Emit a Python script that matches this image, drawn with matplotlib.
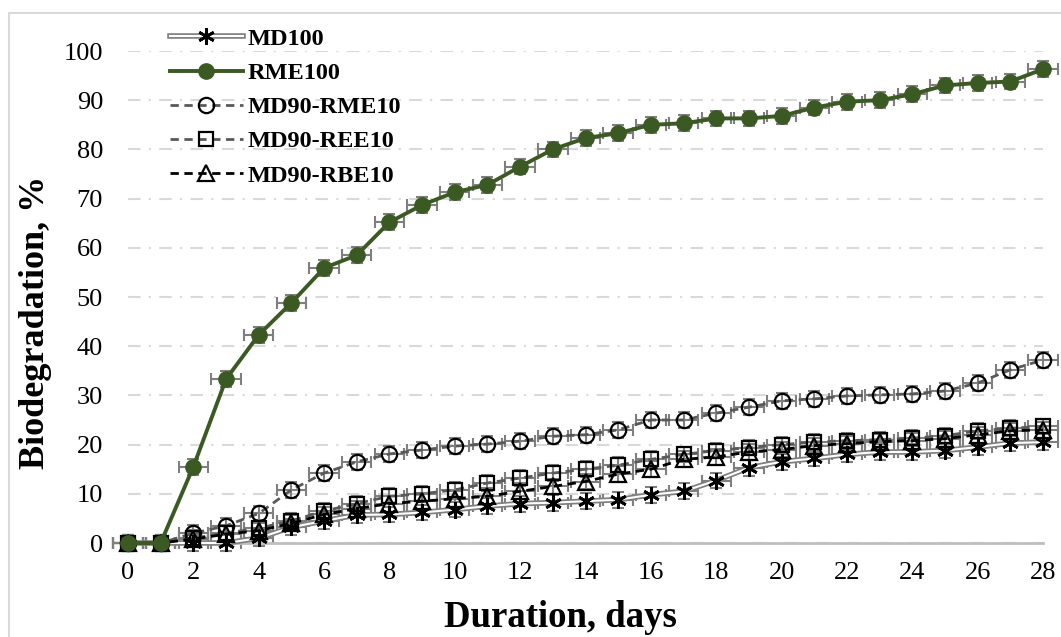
import numpy as np
import matplotlib.pyplot as plt
from matplotlib.patches import Rectangle

plt.rcParams['font.family'] = ['Liberation Serif', 'DejaVu Serif']

days = list(range(29))

md100 = [0, 0, 0, 0, 1, 3.2, 4.5, 5.7, 5.8, 6.2, 6.8, 7.5, 8, 8.2, 8.5,
         8.8, 9.8, 10.5, 12.7, 15.3, 16.5, 17.2, 18, 18.5, 18.5, 18.8, 19.5, 20.3, 20.5]
rme100 = [0, 0, 15.5, 33.3, 42.3, 48.8, 55.9, 58.5, 65.2, 68.7, 71.3, 72.8, 76.5, 80,
          82.3, 83.3, 85, 85.3, 86.3, 86.3, 86.8, 88.5, 89.7, 90, 91.2, 93, 93.5, 93.8, 96.3]
md90_rme10 = [0, 0, 2, 3.5, 6, 10.8, 14.2, 16.5, 18.1, 18.9, 19.7, 20.1, 20.7, 21.7, 22,
              23, 25, 25, 26.4, 27.6, 28.9, 29.3, 29.9, 30.1, 30.3, 30.9, 32.5, 35.2, 37.2]
md90_ree10 = [0, 0, 1, 2, 3, 4.5, 6.5, 8, 9.5, 10, 10.8, 12.2, 13.2, 14.2, 15,
              15.8, 17, 18, 18.8, 19.4, 20, 20.5, 20.8, 21, 21.3, 21.8, 22.8, 23.3, 23.7]
md90_rbe10 = [0, 0, 0.8, 1.8, 2.5, 4, 5.8, 7, 8, 8.5, 9, 9.5, 10.5, 11.5, 12.5,
              14, 15, 17, 17.5, 18.5, 19, 19.8, 20.2, 20.6, 20.8, 21.2, 22, 22.8, 23]

err_y = 1.6
err_x = 0.45
green = '#3b5a23'
dgray = '#595959'
ast = (6, 2, 0)

fig = plt.figure(figsize=(10.61, 6.37), dpi=100)
fig.patches.append(Rectangle((9 / 1061, -0.1), 1.2, 1.1 - 13 / 637, transform=fig.transFigure,
                             fill=False, edgecolor='#d9d9d9', linewidth=1.5))
ax = fig.add_axes([128 / 1061, 1 - 543 / 637, (1043 - 128) / 1061, (543 - 51) / 637])

# error bars
for ys in [md100, md90_rme10, md90_ree10, md90_rbe10, rme100]:
    ax.errorbar(days, ys, yerr=err_y, xerr=err_x, fmt='none', ecolor='#7f7f7f',
                elinewidth=1.5, capsize=4, capthick=1.5, clip_on=False, zorder=2)

# MD100 double line
l1, = ax.plot(days, md100, color='#7f7f7f', lw=4, clip_on=False, zorder=3)
l2, = ax.plot(days, md100, color='white', lw=1.5, clip_on=False, zorder=3)
l3, = ax.plot(days, md100, ls='none', marker=ast, ms=12, mec='black', mew=2,
              clip_on=False, zorder=4)

l_rme, = ax.plot(days, rme100, color=green, lw=2.8, marker='o', ms=11,
                 mfc=green, mec=green, clip_on=False, zorder=5)
l_c, = ax.plot(days, md90_rme10, color=dgray, lw=2, ls=(0, (3, 2)), marker='o', ms=11,
               mfc='none', mec='black', mew=1.6, clip_on=False, zorder=4)
l_s, = ax.plot(days, md90_ree10, color=dgray, lw=2, ls=(0, (3, 2)), marker='s', ms=10,
               mfc='none', mec='black', mew=1.6, clip_on=False, zorder=4)
l_t, = ax.plot(days, md90_rbe10, color='black', lw=2, ls=(0, (3, 2)), marker='^', ms=11,
               mfc='none', mec='black', mew=1.6, clip_on=False, zorder=4)

ax.set_xlim(0, 28)
ax.set_ylim(0, 100)
ax.set_xticks(range(0, 29, 2))
ax.set_yticks(range(0, 101, 10))
ax.tick_params(axis='both', length=0, labelsize=19)
ax.tick_params(axis='x', pad=14)
ax.tick_params(axis='y', pad=18)
ax.yaxis.grid(True, color='#d9d9d9', lw=1.5, ls=(0, (6, 4, 1, 4)))
ax.set_axisbelow(True)
for s in ['top', 'right', 'left']:
    ax.spines[s].set_visible(False)
ax.spines['bottom'].set_color('#bfbfbf')
ax.spines['bottom'].set_linewidth(2)

ax.set_xlabel('Duration, days', fontsize=26.5, fontweight='bold', labelpad=3)
ax.xaxis.set_label_coords((560 - 128) / 915, -0.115)
ax.set_ylabel('Biodegradation, %', fontsize=26, fontweight='bold')
ax.yaxis.set_label_coords(-0.083, (543 - 322) / 492)

leg = fig.legend([(l1, l2, l3), l_rme, l_c, l_s, l_t],
                 ['MD100', 'RME100', 'MD90-RME10', 'MD90-REE10', 'MD90-RBE10'],
                 loc='upper left', bbox_to_anchor=(148 / 1061, 1 - 6 / 637),
                 frameon=False, prop={'weight': 'bold', 'size': 17.5},
                 handlelength=3.0, handletextpad=0.2, labelspacing=0.5)

fig.savefig('out.png', dpi=100)
